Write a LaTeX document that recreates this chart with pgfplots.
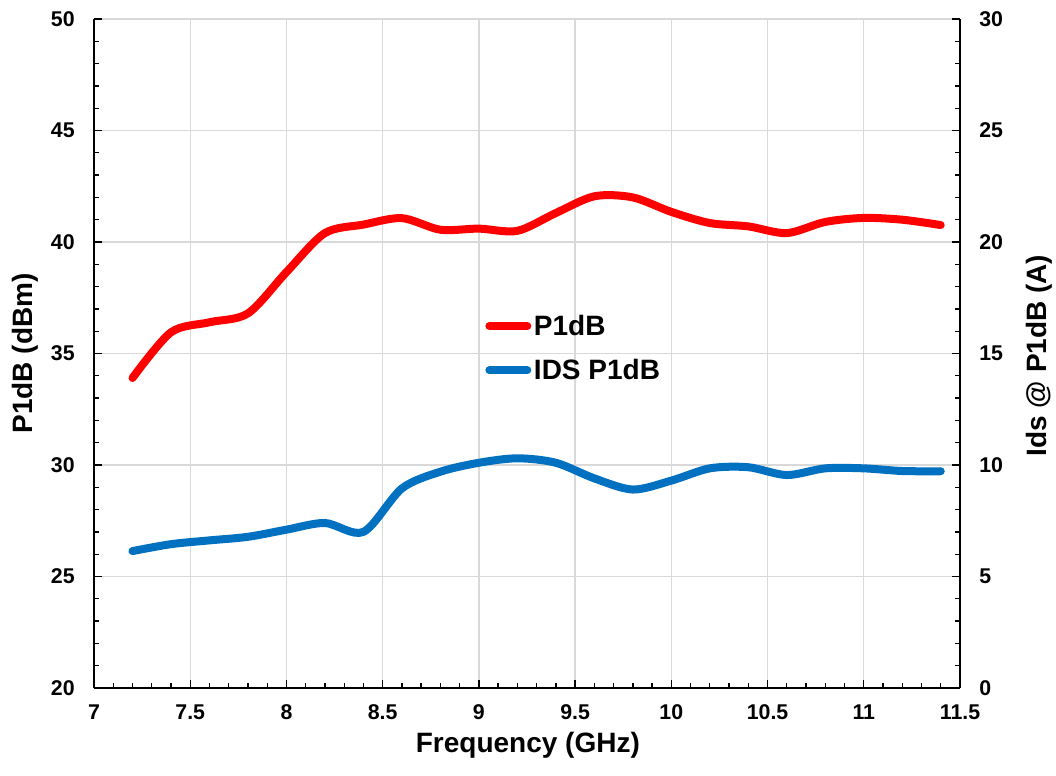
\documentclass[border=0pt]{standalone}
\usepackage{fontspec}
\setmainfont{Liberation Sans}
\usepackage{pgfplots}
\pgfplotsset{compat=1.18}
\definecolor{pred}{HTML}{FF0000}
\definecolor{pblue}{HTML}{0070C0}
\definecolor{gridgray}{HTML}{D9D9D9}

\pgfplotstableread{
x y
7.2 33.9
7.4 35.95
7.6 36.4
7.8 36.8
8.0 38.65
8.2 40.4
8.4 40.78
8.6 41.07
8.8 40.55
9.0 40.6
9.2 40.5
9.4 41.3
9.6 42.05
9.8 42.0
10.0 41.35
10.2 40.85
10.4 40.7
10.6 40.4
10.8 40.9
11.0 41.08
11.2 41.0
11.4 40.76
}\ponedb

\pgfplotstableread{
x y
7.2 6.14
7.4 6.45
7.6 6.62
7.8 6.78
8.0 7.1
8.2 7.4
8.4 7.0
8.6 8.95
8.8 9.7
9.0 10.1
9.2 10.3
9.4 10.1
9.6 9.4
9.8 8.9
10.0 9.3
10.2 9.85
10.4 9.9
10.6 9.55
10.8 9.85
11.0 9.85
11.2 9.73
11.4 9.72
}\idsdata

\pgfplotsset{
  myaxis/.style={
    scale only axis, width=649.5pt, height=501.75pt,
    xmin=7, xmax=11.5,
    /pgf/number format/assume math mode=true,
    tick label style={font=\fontsize{16}{19}\selectfont\bfseries},
    label style={font=\fontsize{21}{25}\selectfont\bfseries},
    major tick length=6pt, minor tick length=4pt,
    every tick/.style={black, line width=1pt},
    every minor tick/.style={black, line width=1pt},
    axis line style={black, line width=1.2pt},
    minor y tick num=4,
  }
}

\begin{document}
\begin{tikzpicture}
\useasboundingbox (-70.5pt,-65.25pt) rectangle (721.5pt,516pt);
\begin{axis}[myaxis,
  axis x line*=bottom, axis y line*=left,
  ymin=20, ymax=50, ytick={20,25,30,35,40,45,50},
  xtick={7,7.5,8,8.5,9,9.5,10,10.5,11,11.5},
  minor x tick num=4,
  grid=major, grid style={gridgray, line width=1pt},
  xticklabel style={yshift=-9pt},
  yticklabel style={xshift=-11pt},
  xlabel={Frequency (GHz)},
  ylabel={P1dB (dBm)},
  xlabel style={at={(axis description cs:0.501,-0.0957)}, anchor=base},
  ylabel style={at={(axis description cs:-0.0797,0.5)}, anchor=center},
]
\addplot[pred, line width=6pt, line cap=round, line join=round, smooth] table[x=x,y=y] {\ponedb};
\end{axis}
\begin{axis}[myaxis,
  axis x line=none, axis y line*=right,
  xtick=\empty,
  ymin=0, ymax=30, ytick={0,5,10,15,20,25,30},
  yticklabel style={xshift=11pt},
  ylabel={Ids @ P1dB (A)},
  ylabel style={at={(axis description cs:1.0912,0.497)}, anchor=center},
  legend style={at={(0.447,0.566)}, anchor=north west, draw=none, fill=none,
    font=\fontsize{21}{25}\selectfont\bfseries, row sep=12.5pt,
    /tikz/every even column/.append style={column sep=2pt}},
  legend cell align=left,
  legend image code/.code={\draw[#1, line cap=round] (0cm,0cm) -- (1.0cm,0cm);},
]
\addlegendimage{pred, line width=6pt}
\addplot[pblue, line width=6pt, line cap=round, line join=round, smooth] table[x=x,y=y] {\idsdata};
\legend{P1dB, IDS P1dB}
\end{axis}
\end{tikzpicture}
\end{document}
